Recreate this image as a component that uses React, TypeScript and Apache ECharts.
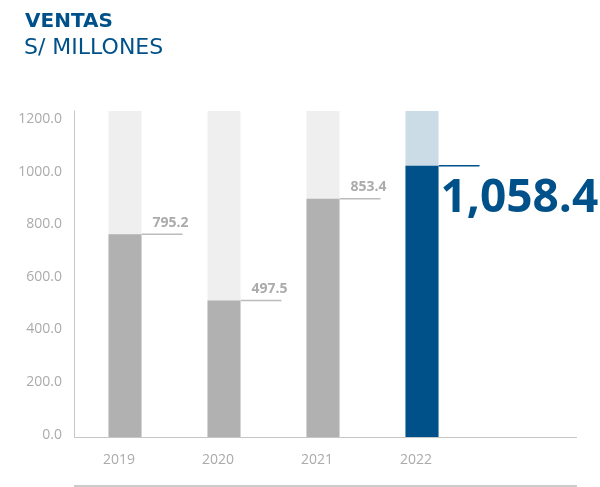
import React, { useEffect, useRef } from "react";
import * as echarts from "echarts";

const categories = ["2019", "2020", "2021", "2022", ""];
// bar heights as drawn in the reference (S/ millones)
const barValues = [771, 519, 906, 1032];
// printed labels
const valueLabels = ["795.2", "497.5", "853.4", "1,058.4"];
const backgroundTops = [1240, 1240, 1240, 1240];
const yTicks = { min: 0, max: 1240, interval: 200 };

const BLUE = "#00518a";
const GRAY_BAR = "#b1b1b1";
const GRAY_BG = "#efefef";
const BLUE_BG = "#cbdce7";
const GRAY_TEXT = "#ababab";
const BAR_W = 33;

export default function App() {
  const ref = useRef<HTMLDivElement>(null);
  useEffect(() => {
    if (!ref.current) return;
    const chart = echarts.init(ref.current, null, { renderer: "svg" });
    const last = barValues.length - 1;
    chart.setOption({
      animation: false,
      grid: { left: 75.5, width: 495, top: 111, bottom: 50, containLabel: false },
      xAxis: {
        type: "category",
        data: categories,
        axisLine: { show: false },
        axisTick: { show: false },
        axisLabel: {
          color: GRAY_TEXT,
          fontSize: 14,
          fontFamily: "Open Sans",
          margin: 14,
          padding: [0, 12, 0, 0],
        },
      },
      yAxis: {
        type: "value",
        min: yTicks.min,
        max: yTicks.max,
        interval: yTicks.interval,
        offset: 1.5,
        axisLine: { show: true, lineStyle: { color: "#c6c6c6", width: 1 } },
        axisTick: { show: false },
        splitLine: { show: false },
        axisLabel: {
          showMaxLabel: false,
          color: GRAY_TEXT,
          fontSize: 14,
          fontFamily: "Open Sans",
          margin: 12,
          verticalAlign: "bottom",
          lineHeight: 8,
          formatter: (v: number) => v.toFixed(1),
        },
      },
      graphic: [
        {
          type: "line",
          shape: { x1: 74, y1: 437.5, x2: 577, y2: 437.5 },
          style: { stroke: "#c6c6c6", lineWidth: 1 },
        },
        {
          type: "rect",
          shape: { x: 74, y: 485, width: 503, height: 2 },
          style: { fill: "#cccccc" },
        },
        {
          type: "text",
          x: 25,
          y: 20,
          style: {
            text: "VENTAS",
            fill: BLUE,
            font: "bold 20px 'DejaVu Sans'",
            verticalAlign: "middle",
          },
        },
        {
          type: "text",
          x: 24,
          y: 46,
          style: {
            text: "S/ MILLONES",
            fill: BLUE,
            font: "22px 'DejaVu Sans'",
            verticalAlign: "middle",
          },
        },
      ],
      series: [
        {
          type: "bar",
          barWidth: BAR_W,
          barGap: "-100%",
          silent: true,
          data: backgroundTops.map((v, i) => ({
            value: v,
            itemStyle: { color: i === last ? BLUE_BG : GRAY_BG },
          })),
        },
        {
          type: "bar",
          barWidth: BAR_W,
          barGap: "-100%",
          data: barValues.map((v, i) => ({
            value: v,
            itemStyle: { color: i === last ? BLUE : GRAY_BAR },
          })),
        },
        {
          type: "custom",
          silent: true,
          data: barValues.map((v, i) => [i, v]),
          renderItem: (params: any, api: any) => {
            const i = params.dataIndex;
            const pt = api.coord([api.value(0), api.value(1)]);
            const x0 = pt[0] + BAR_W / 2;
            const y = pt[1];
            const hi = i === last;
            return {
              type: "group",
              children: [
                {
                  type: "line",
                  shape: { x1: x0, y1: y, x2: x0 + 41, y2: y },
                  style: { stroke: hi ? BLUE : "#bcbcbc", lineWidth: 1.5 },
                },
                {
                  type: "text",
                  x: hi ? x0 + 2 : x0 + 11,
                  y: hi ? y + 28 : y - 13,
                  style: {
                    text: valueLabels[i],
                    fill: hi ? BLUE : GRAY_TEXT,
                    font: hi
                      ? "bold 46px 'Open Sans'"
                      : "bold 14px 'Open Sans'",
                    verticalAlign: "middle",
                    align: "left",
                  },
                },
              ],
            };
          },
        },
      ],
    });
    return () => chart.dispose();
  }, []);
  return (
    <div
      ref={ref}
      style={{ position: "fixed", left: 0, top: 0, width: 600, height: 487 }}
    />
  );
}
